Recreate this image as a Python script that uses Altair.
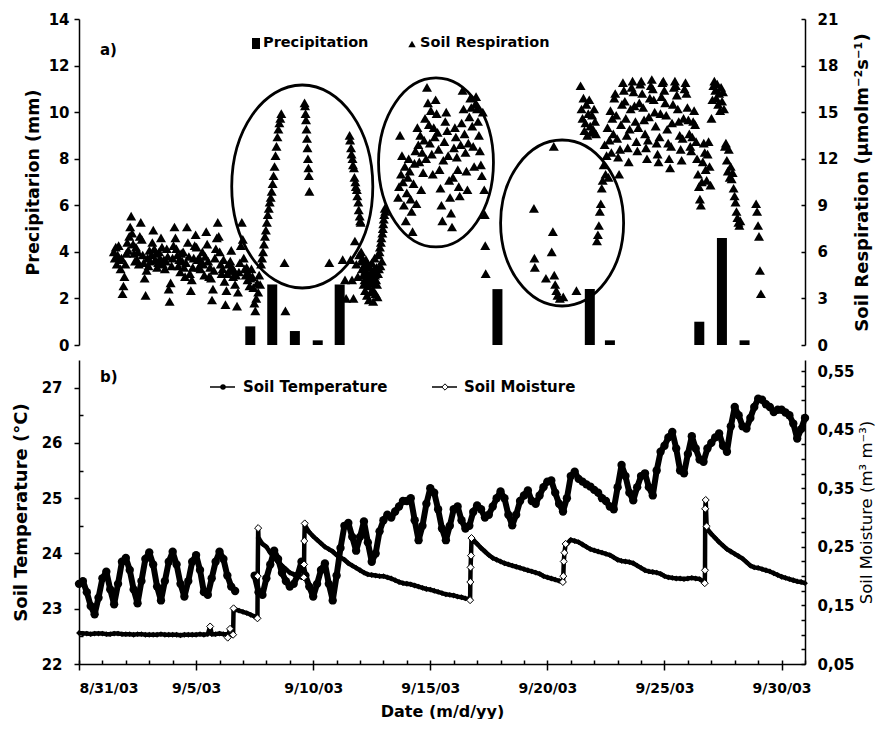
import altair as alt
import pandas as pd

FONT = "DejaVu Sans"

# ---------------- data ----------------
x_tick_days = [0, 5, 10, 15, 20, 25, 30]
x_tick_labels = ["8/31/03", "9/5/03", "9/10/03", "9/15/03", "9/20/03", "9/25/03", "9/30/03"]

# precipitation (mm), day offset from 8/31/03 00:00
precip_day = [7.2, 8.15, 9.13, 10.12, 11.07, 17.9, 21.9, 22.77, 26.64, 27.62, 28.6]
precip_mm = [0.8, 2.6, 0.6, 0.2, 2.6, 2.4, 2.4, 0.2, 1.0, 4.6, 0.2]

# soil respiration (umol m-2 s-1): (start day, step in hours, values)
resp_wk1_start = 1.2917
resp_wk1 = [6.0, 5.6, 6.3, 5.2, 5.8, 6.4, 5.5, 4.9, 5.6, 3.3, 3.8, 4.4, 5.2, 5.9, 6.6, 6.1, 7.0,
            7.6, 8.3, 7.2, 6.5, 5.9, 5.4, 6.3, 5.5, 6.0, 5.2, 7.0, 7.9, 6.8, 5.8, 5.3, 4.3, 3.2, 4.8, 5.6, 5.1, 6.1, 5.4, 5.8, 6.6,
            7.4, 6.2, 5.5, 5.9, 5.0, 5.3, 6.0, 5.6, 6.9, 6.3, 5.2, 5.5, 4.9, 5.4, 6.2, 5.7, 3.6, 2.8, 4.0, 5.1, 5.6, 6.4, 7.6, 6.9,
            6.2, 5.8, 5.1, 5.5, 4.7, 5.9, 5.4, 6.0, 5.0, 4.4, 5.3, 7.6, 6.6, 5.7, 4.6, 3.5, 4.2, 5.0, 5.6, 6.4, 7.1, 6.3, 5.5, 5.0,
            5.6, 4.9, 5.3, 6.0, 5.2, 4.5, 5.7, 7.3, 6.5, 5.4, 4.4, 5.0, 4.3, 2.9, 3.6, 4.8, 5.6, 6.2, 6.9, 7.9, 7.0, 6.0, 5.2, 4.6,
            4.9, 5.5, 4.1, 2.6, 3.5, 4.6, 5.2, 4.8, 5.4, 6.1, 5.0, 4.4, 4.8, 3.9, 4.5, 2.5, 3.4, 4.7, 5.3, 6.4, 7.9, 6.8, 5.6, 4.9,
            4.5, 5.0, 4.2, 4.6, 3.8, 4.3, 4.9, 4.4, 3.7, 2.7, 2.2, 3.0, 4.0, 3.4, 4.5, 3.9, 5.2, 5.6, 6.0, 6.5, 7.0, 7.4, 7.9, 8.4,
            8.8, 9.2, 9.5, 9.9, 10.4, 10.9, 11.5, 12.2, 12.8, 13.4, 13.9, 14.3, 14.6, 14.9]
resp_colA_start = 9.55
resp_colA = [15.6, 15.4, 14.9, 14.5, 13.9, 13.3, 12.7, 12.0, 11.4, 10.9, 9.9]
resp_mid_start = 11.5
resp_mid = [13.5, 13.2, 5.5, 12.7, 12.3, 4.2, 12.0, 11.6, 3.0, 11.4, 10.8, 6.7, 10.5, 10.2, 5.2, 10.0, 9.6, 4.4, 9.2, 8.7, 5.8, 8.3, 8.0, 7.9,
            6.0, 5.4, 4.9, 5.6, 4.5, 3.9, 5.1, 4.2, 3.5, 4.8, 5.5, 4.0, 3.2, 4.6, 5.2, 3.8, 2.9, 4.4, 5.0, 4.1, 3.4, 4.7, 5.3, 4.3,
            3.6, 2.8, 4.0, 4.9, 5.6, 4.5, 3.3, 4.2, 5.0, 3.9, 3.1, 4.6,
            5.8, 4.9, 6.0, 6.3, 5.1, 6.6, 6.9, 5.4, 7.2, 7.5, 7.8, 8.1, 8.4, 8.8, 8.6]
resp_ell2_start = 13.6
resp_ell2 = [9.5, 10.2, 13.5, 11.0, 12.2, 10.5, 9.0, 11.5, 8.0, 9.8,
             10.8, 12.0, 11.2, 9.4, 8.6, 7.3, 10.4, 11.7, 12.5, 9.1,
             14.0, 12.9, 11.8, 13.5, 10.0, 12.4, 11.1, 13.2, 14.6, 12.0,
             16.6, 15.6, 14.2, 13.0, 15.1, 12.3, 11.0, 14.0, 13.4, 15.8,
             14.9, 13.7, 12.6, 11.3, 10.1, 9.0, 8.0, 11.9, 13.1, 14.4,
             15.0, 13.8, 12.2, 10.6, 9.5, 8.5, 7.6, 10.8, 12.7, 14.0,
             13.4, 12.1, 11.3, 10.2, 9.6, 12.9, 14.3, 16.4, 15.2, 13.6,
             12.4, 11.2, 10.0, 13.0, 14.7, 15.9, 15.3, 14.1, 12.8, 11.5,
             15.5, 16.0, 15.2, 14.4, 13.5, 12.5, 11.6, 10.9, 15.0]
resp_drop_start = 17.33
resp_drop = [10.0, 8.4, 6.4, 4.6]
resp_late_start = 21.5
resp_late = [16.7, 15.2, 14.6, 15.9, 13.8, 14.3, 15.5, 13.5, 14.9, 15.8, 14.1, 13.7,
             14.8, 13.9, 15.2, 14.4, 13.6, 6.7, 7.1, 7.7, 8.6, 9.1, 10.1, 10.6, 11.6, 12.9, 11.0, 12.2, 14.0, 10.8, 13.2, 15.1, 12.4, 14.6, 13.6, 15.9,
             16.2, 14.8, 13.3, 12.1, 11.0, 12.6, 14.2, 15.5, 16.9, 16.4, 15.7, 14.6, 13.5, 12.7, 11.8, 13.9, 15.2, 16.6, 17.0, 16.3, 15.4, 14.4, 13.1, 12.5,
             14.0, 15.6, 16.8, 17.0, 16.2, 15.3, 14.5, 13.6, 12.7, 12.0, 13.2, 14.7, 15.9, 16.7, 17.1, 16.5, 15.8, 15.0, 14.1, 13.0, 12.3, 11.8, 13.4, 14.9,
             16.0, 16.9, 17.0, 16.4, 15.6, 14.8, 13.9, 13.0, 12.0, 11.4, 12.8, 14.3, 15.5, 16.6, 17.0, 16.7, 16.1, 15.2, 14.4, 13.5, 12.6, 11.9, 13.3, 14.6,
             16.5, 16.9, 16.2, 15.3, 14.5, 13.6, 12.8, 12.5, 13.4, 14.4, 15.1, 14.2, 13.1, 12.0, 11.0, 10.2, 9.4, 9.0, 10.5, 11.8, 13.0, 12.4, 11.3, 10.6,
             12.3, 13.1, 11.5, 10.3, 14.6, 15.8, 16.7, 17.0, 16.4, 15.9, 16.8, 15.5, 16.2, 15.1, 16.6, 15.7, 16.3, 15.2, 12.8, 13.0, 11.9, 11.2, 12.6, 10.8,
             11.5, 10.7, 11.1, 10.1, 9.6, 9.2, 8.6, 8.2, 7.9, 7.7, 8.0]
resp_end_start = 29.1
resp_end = [9.1, 8.6, 7.7, 7.0, 4.8, 3.3]
resp_pt_day = [8.68, 8.72, 10.62, 11.2, 11.3, 11.35, 19.48, 19.5, 19.52, 20.0, 20.25, 20.3,
               20.34, 20.36, 20.4, 20.45, 20.5, 20.6, 20.75, 21.32]
resp_pt_val = [5.3, 2.2, 5.3, 5.5, 4.2, 3.0, 8.8, 5.6, 5.0, 4.3, 6.0, 7.3,
               12.8, 4.5, 3.9, 3.5, 3.2, 3.0, 3.1, 3.5]

# circled regions (centre day, centre respiration)
ell_day = [9.45, 15.24, 20.7]
ell_resp = [10.21, 11.76, 7.86]

# soil temperature (deg C), every 4 h, one row per day from 8/31
temp_4h = [
    [23.45, 23.5, 23.3, 23.05, 22.9, 23.2],
    [23.55, 23.67, 23.35, 23.08, 23.45, 23.85],
    [23.92, 23.7, 23.35, 23.1, 23.5, 23.9],
    [24.02, 23.8, 23.4, 23.15, 23.5, 23.85],
    [24.03, 23.8, 23.45, 23.22, 23.5, 23.85],
    [23.97, 23.7, 23.3, 23.25, 23.55, 23.85],
    [24.03, 23.9, 23.6, 23.4, 23.32, None],
    [None, None, None, 23.6, 23.3, 23.25],
    [23.55, 23.8, 24.05, 23.9, 23.65, 23.5],
    [23.4, 23.45, 23.6, 23.85, 23.6, 23.4],
    [23.22, 23.45, 23.7, 23.82, 23.45, 23.15],
    [23.6, 24.1, 24.5, 24.55, 24.3, 24.05],
    [24.3, 24.58, 24.2, 23.85, 24.0, 24.4],
    [24.6, 24.7, 24.65, 24.76, 24.85, 24.95],
    [24.95, 25.0, 24.6, 24.24, 24.5, 24.9],
    [25.18, 25.1, 24.8, 24.45, 24.24, 24.5],
    [24.8, 24.85, 24.6, 24.45, 24.5, 24.75],
    [24.87, 24.8, 24.65, 24.7, 24.85, 25.0],
    [25.12, 25.0, 24.7, 24.51, 24.7, 24.95],
    [25.05, 25.14, 24.95, 24.9, 25.05, 25.2],
    [25.3, 25.32, 25.1, 24.9, 24.76, 25.0],
    [25.4, 25.48, 25.35, 25.3, 25.25, 25.21],
    [25.15, 25.1, 25.0, 24.95, 24.85, 24.8],
    [25.2, 25.6, 25.4, 25.1, 24.96, 25.2],
    [25.4, 25.45, 25.2, 25.05, 25.5, 25.84],
    [25.95, 26.1, 26.2, 25.9, 25.5, 25.45],
    [25.8, 26.12, 25.9, 25.7, 25.66, 25.9],
    [26.0, 26.1, 26.17, 25.95, 25.84, 26.3],
    [26.65, 26.5, 26.3, 26.26, 26.45, 26.65],
    [26.8, 26.78, 26.7, 26.65, 26.56, 26.6],
    [26.6, 26.55, 26.5, 26.35, 26.08, 26.25],
]
temp_last = 26.45

# soil moisture (m3 m-3), every 4 h
moist_4h = [
    [0.103, 0.102, 0.102, 0.101, 0.102, 0.102],
    [0.102, 0.101, 0.101, 0.102, 0.102, 0.101],
    [0.101, 0.101, 0.100, 0.101, 0.101, 0.100],
    [0.100, 0.100, 0.100, 0.101, 0.100, 0.100],
    [0.100, 0.100, 0.099, 0.100, 0.100, 0.100],
    [0.100, 0.101, 0.100, 0.101, 0.101, 0.101],
    [0.102, 0.101, 0.101, 0.100, 0.143, 0.141],
    [0.139, 0.137, 0.134, 0.131, 0.265, 0.255],
    [0.250, 0.240, 0.232, 0.224, 0.218, 0.212],
    [0.206, 0.203, 0.200, 0.198, 0.285, 0.275],
    [0.268, 0.262, 0.256, 0.250, 0.246, 0.242],
    [0.236, 0.232, 0.228, 0.222, 0.218, 0.214],
    [0.210, 0.206, 0.203, 0.202, 0.201, 0.200],
    [0.200, 0.198, 0.196, 0.193, 0.190, 0.188],
    [0.187, 0.186, 0.184, 0.182, 0.180, 0.178],
    [0.177, 0.175, 0.173, 0.171, 0.169, 0.168],
    [0.167, 0.165, 0.164, 0.162, 0.161, 0.262],
    [0.255, 0.248, 0.242, 0.236, 0.231, 0.228],
    [0.225, 0.222, 0.220, 0.218, 0.216, 0.214],
    [0.212, 0.210, 0.208, 0.206, 0.204, 0.200],
    [0.198, 0.196, 0.194, 0.192, 0.190, 0.255],
    [0.262, 0.260, 0.258, 0.254, 0.250, 0.246],
    [0.244, 0.242, 0.240, 0.238, 0.236, 0.232],
    [0.228, 0.226, 0.225, 0.224, 0.222, 0.218],
    [0.214, 0.210, 0.208, 0.207, 0.206, 0.204],
    [0.200, 0.198, 0.197, 0.196, 0.196, 0.195],
    [0.196, 0.197, 0.196, 0.195, 0.190, 0.280],
    [0.272, 0.265, 0.258, 0.252, 0.246, 0.242],
    [0.238, 0.234, 0.230, 0.224, 0.218, 0.215],
    [0.214, 0.212, 0.210, 0.208, 0.205, 0.202],
    [0.199, 0.197, 0.195, 0.193, 0.191, 0.190],
]
moist_last = 0.188
moist_jump_day = [5.6, 6.35, 6.45, 6.58, 6.6, 7.62, 7.63, 7.65, 9.6, 9.61, 9.62, 9.64,
                  16.7, 16.71, 16.72, 16.74, 16.76, 20.66, 20.68, 20.7, 20.73, 20.78,
                  26.72, 26.73, 26.74, 26.76, 26.8]
moist_jump_val = [0.114, 0.095, 0.11, 0.10, 0.145, 0.128, 0.2, 0.282, 0.198, 0.22, 0.26, 0.29,
                  0.159, 0.19, 0.215, 0.235, 0.265, 0.19, 0.2, 0.225, 0.24, 0.255,
                  0.188, 0.21, 0.315, 0.33, 0.285]

# ---------------- tables ----------------
def seg_rows(start, step_h, vals):
    return [{"t": start + i * step_h / 24.0, "r": v} for i, v in enumerate(vals)]

resp_rows = []
for start, step, vals in [(resp_wk1_start, 1, resp_wk1), (resp_colA_start, 0.5, resp_colA),
                          (resp_mid_start, 0.5, resp_mid), (resp_ell2_start, 1, resp_ell2),
                          (resp_drop_start, 0.5, resp_drop), (resp_late_start, 1, resp_late),
                          (resp_end_start, 1, resp_end)]:
    resp_rows += seg_rows(start, step, vals)
resp_rows += [{"t": d, "r": v} for d, v in zip(resp_pt_day, resp_pt_val)]
resp_df = pd.DataFrame(resp_rows)

precip_df = pd.DataFrame({"t": precip_day, "p": precip_mm})

temp_rows = []
seg = 0
gap = False
for d, day in enumerate(temp_4h):
    for k, v in enumerate(day):
        if v is None:
            if not gap:
                seg += 1
            gap = True
            continue
        gap = False
        temp_rows.append({"t": d + k * 4 / 24.0, "T": v, "seg": seg})
temp_rows.append({"t": 31.0, "T": temp_last, "seg": seg})
temp_df = pd.DataFrame(temp_rows)

moist_rows = []
for d, day in enumerate(moist_4h):
    for k, v in enumerate(day):
        moist_rows.append({"t": d + k * 4 / 24.0, "m": v})
moist_rows.append({"t": 31.0, "m": moist_last})
jump_rows = [{"t": d, "m": v} for d, v in zip(moist_jump_day, moist_jump_val)]
moist_df = pd.DataFrame(moist_rows + jump_rows).sort_values("t")
jump_df = pd.DataFrame(jump_rows)

# ---------------- styling helpers ----------------
W = 726
HA = 326
HB = 304
XS = alt.Scale(domain=[0, 31], nice=False, zero=False)
RS = alt.Scale(domain=[0, 21], nice=False, zero=False)
TS = alt.Scale(domain=[22, 27.5], nice=False, zero=False)
MS = alt.Scale(domain=[0.05, 0.569], nice=False, zero=False)

base_ax = dict(grid=False, domainColor="black", domainWidth=1.5, tickColor="black", tickWidth=1.5,
               labelFont=FONT, labelFontWeight="bold", labelColor="black", titleFont=FONT,
               titleColor="black")

one = alt.Data(values=[{"k": 1}])
carrier = alt.Data(values=[{"c": 0}])


def txt(text, x, y, size, weight="bold"):
    return alt.Chart(one).mark_text(text=text, font=FONT, fontSize=size, fontWeight=weight,
                                    align="left", baseline="middle", color="black").encode(
        x=alt.value(x), y=alt.value(y))


def y_tick_carrier(scale, orient, values, size=4):
    return alt.Chart(carrier).mark_point(opacity=0).encode(
        x=alt.X("c:Q", scale=XS, axis=None),
        y=alt.Y("c:Q", scale=scale,
                axis=alt.Axis(orient=orient, values=values, labels=False, domain=False, grid=False,
                              tickSize=size, offset=-size, title=None, tickColor="black", tickWidth=1.5)))


def ellipse(i, ry_px, aspect):
    a = aspect
    k = 0.5523
    ka = k * a
    path = (f"M0,-1 C{ka:.4f},-1 {a:.4f},-{k} {a:.4f},0 C{a:.4f},{k} {ka:.4f},1 0,1 "
            f"C-{ka:.4f},1 -{a:.4f},{k} -{a:.4f},0 C-{a:.4f},-{k} -{ka:.4f},-1 0,-1 Z")
    df = pd.DataFrame({"t": [ell_day[i]], "r": [ell_resp[i]]})
    return alt.Chart(df).mark_point(shape=path, filled=False, color="black", strokeWidth=2.8,
                                    size=(2 * ry_px) ** 2, opacity=1).encode(
        x=alt.X("t:Q", scale=XS, axis=None),
        y=alt.Y("r:Q", scale=RS, axis=None))


# ---------------- panel a ----------------
bars = alt.Chart(precip_df).mark_bar(color="black", size=10, orient="vertical").encode(
    x=alt.X("t:Q", scale=XS, axis=None),
    y=alt.Y("p:Q", scale=alt.Scale(domain=[0, 14], nice=False),
            axis=alt.Axis(orient="left", values=list(range(0, 15, 2)), title="Precipitarion (mm)",
                          tickSize=5, labelPadding=5, labelFontSize=15, titleFontSize=17.5,
                          titleFontWeight="bold", titlePadding=6, **base_ax)))

tri = alt.Chart(resp_df).mark_point(shape="triangle-up", filled=True, color="black", size=100,
                                    opacity=1, strokeWidth=0).encode(
    x=alt.X("t:Q", scale=XS, axis=None),
    y=alt.Y("r:Q", scale=RS,
            axis=alt.Axis(orient="right", values=list(range(0, 22, 3)),
                          title="Soil Respiration (µmolm⁻²s⁻¹)", tickSize=0, labelPadding=12,
                          labelFontSize=15, titleFontSize=18, titleFontWeight="bold", titleAngle=270,
                          titleBaseline="top", titlePadding=16, **base_ax)))

leg_a = [
    alt.Chart(one).mark_rect(color="black").encode(x=alt.value(173), x2=alt.value(181),
                                                    y=alt.value(19), y2=alt.value(30)),
    txt("Precipitation", 184, 24, 14.5),
    alt.Chart(one).mark_point(shape="triangle-up", filled=True, color="black", size=55, opacity=1).encode(
        x=alt.value(333), y=alt.value(25)),
    txt("Soil Respiration", 341, 24, 14.5),
    txt("a)", 21, 31, 15),
]

panel_a = alt.layer(
    bars, tri, ellipse(0, 101.5, 0.695), ellipse(1, 84.5, 0.68), ellipse(2, 83, 0.741),
    y_tick_carrier(RS, "right", list(range(0, 22, 3))), *leg_a
).resolve_scale(y="independent").properties(width=W, height=HA)

# ---------------- panel b ----------------
label_expr = " : ".join(f"datum.value == {d} ? '{l}'" for d, l in zip(x_tick_days, x_tick_labels)) + " : ''"

x_major = alt.Axis(orient="bottom", values=x_tick_days, labelExpr=label_expr, tickSize=6, labelPadding=11,
                   labelFontSize=14, title="Date (m/d/yy)", titleFontSize=16, titleFontWeight="bold",
                   titlePadding=8, **base_ax)
x_minor = alt.Axis(orient="bottom", values=list(range(0, 32)), labels=False, domain=False, grid=False,
                   tickSize=4, offset=-4, title=None, tickColor="black", tickWidth=1.5)

temp_line = alt.Chart(temp_df).mark_line(color="black", strokeWidth=6, strokeJoin="round").encode(
    x=alt.X("t:Q", scale=XS, axis=x_major),
    y=alt.Y("T:Q", scale=TS,
            axis=alt.Axis(orient="left", values=[22, 23, 24, 25, 26, 27], tickSize=5, labelPadding=12,
                          labelFontSize=15, title="Soil Temperature (°C)", titleFontSize=18,
                          titleFontWeight="bold", titlePadding=11, **base_ax)),
    detail="seg:N")

temp_pts = alt.Chart(temp_df).mark_circle(color="black", size=70, opacity=1).encode(
    x=alt.X("t:Q", scale=XS, axis=None),
    y=alt.Y("T:Q", scale=TS,
            axis=alt.Axis(orient="left", values=[22.5, 23.5, 24.5, 25.5, 26.5], labels=False, domain=False,
                          grid=False, tickSize=4, offset=-4, title=None, tickColor="black", tickWidth=1.5)))

moist_major_vals = [0.05, 0.15, 0.25, 0.35, 0.45, 0.55]
moist_minor_vals = [round(0.05 + 0.025 * i, 3) for i in range(21)]

moist_line = alt.Chart(moist_df).mark_line(color="black", strokeWidth=4.5, strokeJoin="round").encode(
    x=alt.X("t:Q", scale=XS, axis=x_minor),
    y=alt.Y("m:Q", scale=MS,
            axis=alt.Axis(orient="right", values=moist_major_vals, format=".2f",
                          labelExpr="replace(datum.label, '.', ',')", tickSize=0, labelPadding=12,
                          labelFontSize=15, title="Soil Moisture (m³ m⁻³)", titleFontSize=16.5,
                          titleFontWeight="normal", titleAngle=270, titleBaseline="top", titlePadding=4,
                          **base_ax)))

moist_pts = alt.Chart(moist_df).mark_point(shape="diamond", filled=True, color="black", size=34, opacity=1).encode(
    x=alt.X("t:Q", scale=XS, axis=None),
    y=alt.Y("m:Q", scale=MS,
            axis=alt.Axis(orient="right", values=moist_minor_vals, labels=False, domain=False, grid=False,
                          tickSize=4, offset=-4, title=None, tickColor="black", tickWidth=1.5)))

moist_jump = alt.Chart(jump_df).mark_point(shape="diamond", filled=True, fill="white", stroke="black",
                                           strokeWidth=1, size=50, opacity=1).encode(
    x=alt.X("t:Q", scale=XS, axis=None),
    y=alt.Y("m:Q", scale=MS, axis=None))

leg_b = [
    alt.Chart(one).mark_rule(color="black", strokeWidth=1.5).encode(x=alt.value(131), x2=alt.value(156), y=alt.value(27)),
    alt.Chart(one).mark_circle(color="black", size=30, opacity=1).encode(x=alt.value(144), y=alt.value(27)),
    txt("Soil Temperature", 164, 27, 15),
    alt.Chart(one).mark_rule(color="black", strokeWidth=1.5).encode(x=alt.value(353), x2=alt.value(378), y=alt.value(27)),
    alt.Chart(one).mark_point(shape="diamond", filled=True, fill="white", stroke="black", strokeWidth=1,
                              size=40, opacity=1).encode(x=alt.value(366), y=alt.value(27)),
    txt("Soil Moisture", 385, 27, 15),
    txt("b)", 21, 17, 15),
]

panel_b = alt.layer(
    temp_line, temp_pts, moist_line, moist_pts, moist_jump, *leg_b
).resolve_scale(y="independent").resolve_axis(x="independent").properties(width=W, height=HB)

chart = alt.vconcat(panel_a, panel_b, spacing=15, bounds="flush").properties(
    padding={"left": 4, "top": 4, "right": 2, "bottom": 0},
    background="white",
).configure_view(stroke=None)

chart.save("out.html", embed_options={"renderer": "svg", "actions": False})
